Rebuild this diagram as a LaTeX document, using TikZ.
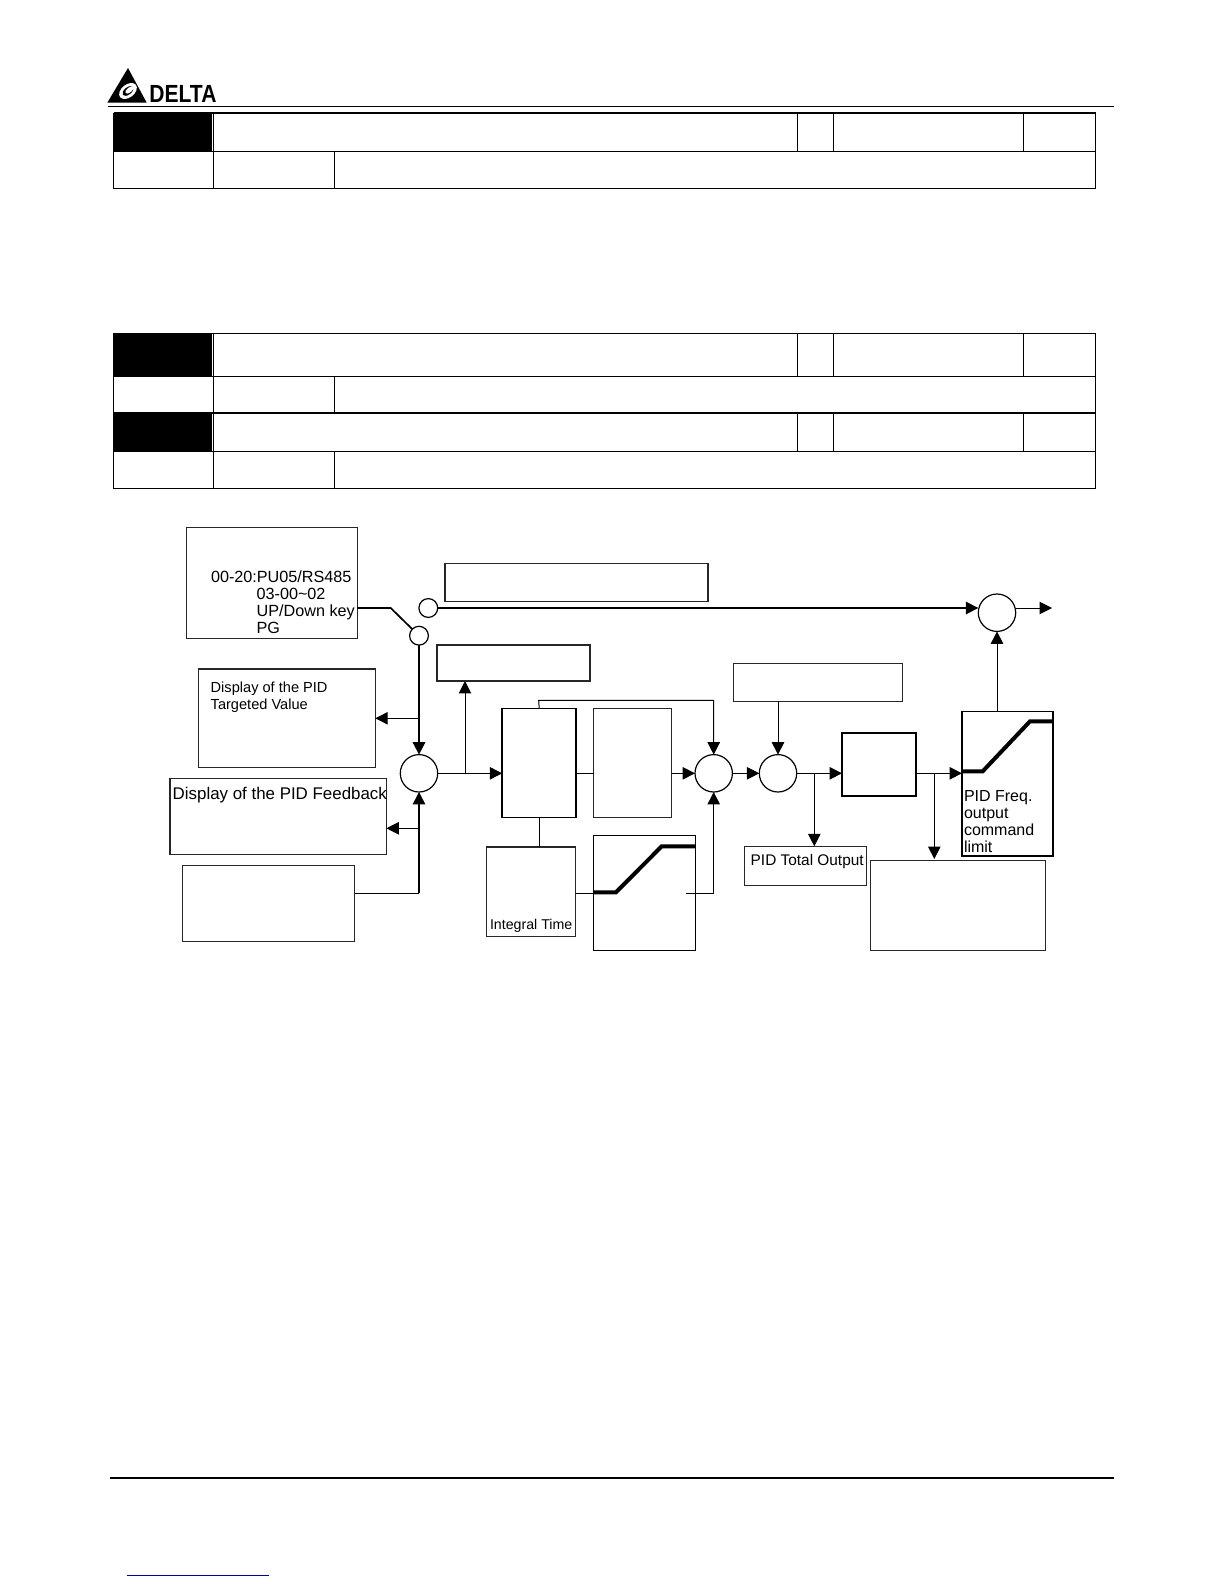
\documentclass[tikz,border=0pt]{standalone}
\usepackage{fontspec}
\setmainfont{Liberation Sans}
\usetikzlibrary{calc}
\usetikzlibrary{arrows.meta}
\tikzset{
  pidbox/.style={draw=black!85,line width=0.55pt,anchor=north west,inner sep=0pt,outer sep=0pt},
  boldbox/.style={pidbox,draw=black,line width=0.75pt},
  sumnode/.style={draw=black,circle,line width=0.6pt,inner sep=0pt,outer sep=0pt,minimum size=18.7pt},
  contact/.style={sumnode,minimum size=9.4pt},
  boxtext/.style={anchor=north west,inner sep=0pt,outer sep=0pt,align=left},
  wire/.style={line width=0.5pt},
  heavywire/.style={line width=0.85pt},
  limitcurve/.style={line width=2pt},
  tablerule/.style={line width=0.5pt}
}
\begin{document}
\begin{tikzpicture}[>={Triangle[length=6.2pt,width=6.2pt]},x=0.5pt,y=-0.5pt]
    \useasboundingbox (0,0) rectangle (1224,1584);
    \fill[white] (0,0) rectangle (1224,1584);
    % header
    \fill (128,68) -- (146.7,102.7) -- (107.3,102.7) -- cycle;
    \fill[white,rotate around={38:(128,91)}] (128,91) ellipse (10 and 6.5);
    \fill[rotate around={38:(128,91)}] (128,91) ellipse (6.5 and 3.6);
    \fill[white,rotate around={38:(129.5,90)}] (129.5,90) ellipse (5 and 2.4);
    \node[inner sep=0pt,anchor=south west,xscale=0.85,font=\fontsize{12.4}{12.4}\selectfont\bfseries] (brand) at (149,103) {DELTA};
    \draw[line width=0.55pt] (108,106.3) -- (1114,106.3);
    \draw[line width=1.1pt] (110,1478) -- (1114,1478);
    \draw[line width=0.6pt,blue!60!black] (127,1575.3) -- (269,1575.3);
    % tables
    \fill (113.5,113.3) rectangle (212,151);
    \fill (113.5,333.3) rectangle (212,375.5);
    \fill (113.5,414) rectangle (212,451);
    \foreach \ya/\yb/\yc in {113.3/151/188,333.3/376.3/413.3,413.3/451.3/488.3}{
        \draw[tablerule] (113.5,\ya) rectangle (1095.7,\yc);
        \draw[tablerule] (113.5,\yb) -- (1095.7,\yb);
        \draw[tablerule] (213.3,\ya) -- (213.3,\yc);
        \draw[tablerule] (334.3,\yb) -- (334.3,\yc);
        \draw[tablerule] (797.8,\ya) -- (797.8,\yb);
        \draw[tablerule] (833,\ya) -- (833,\yb);
        \draw[tablerule] (1023,\ya) -- (1023,\yb);
    }
    \draw[line width=1.1pt] (113.5,113.3) -- (1095.7,113.3);
    \draw[line width=1.1pt] (113.5,413.3) -- (1095.7,413.3);
    % boxes
    \node[pidbox,minimum width=85.5pt,minimum height=55.5pt] (source) at (186.4,527.4) {};
    \node[pidbox,minimum width=131.5pt,minimum height=19pt] (direct) at (445,563.5) {};
    \node[pidbox,minimum width=76.5pt,minimum height=18pt] (tuning) at (437,645) {};
    \node[pidbox,minimum width=88.3pt,minimum height=49.2pt] (target) at (198.7,669) {};
    \node[pidbox,minimum width=108.2pt,minimum height=38.2pt] (feedback) at (170,778.3) {};
    \node[pidbox,minimum width=86.3pt,minimum height=38pt] (fbgain) at (182.3,865.3) {};
    \node[boldbox,minimum width=37pt,minimum height=54.3pt] (prop) at (502.2,708.7) {};
    \node[pidbox,minimum width=39pt,minimum height=54.2pt] (deriv) at (593.7,708.7) {};
    \node[pidbox,minimum width=44.8pt,minimum height=44.8pt] (integ) at (486.3,847) {};
    \node[boldbox,minimum width=51pt,minimum height=57.3pt] (intlimit) at (593.7,835.7) {};
    \node[pidbox,minimum width=84.7pt,minimum height=19pt] (offset) at (733.3,663.3) {};
    \node[boldbox,minimum width=37pt,minimum height=31.5pt] (delay) at (842,733) {};
    \node[boldbox,minimum width=45.4pt,minimum height=72.4pt] (limit) at (962,711.3) {};
    \node[pidbox,minimum width=61.2pt,minimum height=19.4pt] (total) at (744.3,846.3) {};
    \node[pidbox,minimum width=87.2pt,minimum height=45pt] (freq) at (870.7,860.3) {};
    % sums and switch contacts
    \node[contact] (swa) at (428.3,608) {};
    \node[contact] (swb) at (419,635.7) {};
    \node[sumnode] (suma) at (419,773.3) {};
    \node[sumnode] (sumb) at (713.7,773.3) {};
    \node[sumnode] (sumc) at (778,773.3) {};
    \node[sumnode] (sumd) at (997,612.7) {};
    \coordinate (swbend) at (390.7,608);
    \coordinate (outstart) at (1016,608);
    \coordinate (outend) at (1052,608);
    \coordinate (inttap) at (686,893);
    \coordinate (intcorner) at (713.7,893);
    \coordinate (fbcorner) at (419,893.3);
    % limit curves
    \draw[limitcurve] (962,771.3) -- (982.7,771.3) -- (1030,721.3) -- (1052.7,721.3);
    \draw[limitcurve] (593.7,892.3) -- (616,892.3) -- (661.7,846.3) -- (695.7,846.3);
    % connectors
    \draw[heavywire] (source.east |- swbend) -- (swbend) -- (swb);
    \draw[heavywire,->] (swa) -- (swa -| sumd.west);
    \draw[wire,->] (outstart) -- (outend);
    \draw[heavywire,->] (swb) -- (suma);
    \draw[wire,->] (419,718.3) -- (target.east |- 0,718.3);
    \draw[wire,->] (419,828.3) -- (feedback.east |- 0,828.3);
    \draw[wire] (fbgain.east |- fbcorner) -- (fbcorner);
    \draw[heavywire,->] (fbcorner) -- (suma);
    \draw[wire,->] (suma) -- (prop.west |- suma);
    \draw[wire,->] (465,773.3) -- (465,681);
    \draw[wire] (prop.east |- suma) -- (deriv.west |- suma);
    \draw[wire,->] (deriv.east |- sumb) -- (sumb);
    \draw[wire,->] (prop.north) -- (538.7,700.3) -- (713.7,700.3) -- (sumb);
    \draw[wire] (prop.south) -- (prop.south |- integ.north);
    \draw[wire] (integ.east |- 0,893.3) -- (intlimit.west |- 0,893.3);
    \draw[wire,->] (inttap) -- (intcorner) -- (sumb);
    \draw[wire,->] (sumb) -- (sumc);
    \draw[wire,->] (offset.south -| sumc) -- (sumc);
    \draw[wire,->] (sumc) -- (delay.west |- sumc);
    \draw[wire,->] (814.3,773.3) -- (814.3,846.3);
    \draw[wire,->] (delay.east |- sumc) -- (limit.west |- sumc);
    \draw[wire,->] (934.3,773.3) -- (934.3,859);
    \draw[wire,->] (limit.north -| sumd) -- (sumd);
    % texts
    \node[boxtext,font=\fontsize{8.1}{8.5}\selectfont] (sourcetext) at (211,571) {00-20:PU05/RS485\\ \hspace*{22.8pt}03-00\textasciitilde02\\ \hspace*{22.8pt}UP/Down key\\ \hspace*{22.8pt}PG};
    \node[boxtext,font=\fontsize{7.3}{8.6}\selectfont] (targettext) at (210.7,681.5) {Display of the PID\\Targeted Value};
    \node[boxtext,font=\fontsize{8.45}{8.6}\selectfont] (feedbacktext) at (172.7,787) {Display of the PID Feedback};
    \node[boxtext,font=\fontsize{7.1}{8.5}\selectfont] (integtext) at (490,919.5) {Integral Time};
    \node[boxtext,font=\fontsize{7.7}{8.5}\selectfont] (totaltext) at (750.7,854.5) {PID Total Output};
    \node[boxtext,font=\fontsize{8}{8.6}\selectfont] (limittext) at (964,790) {PID Freq.\\output\\command\\limit};
\end{tikzpicture}
\end{document}
